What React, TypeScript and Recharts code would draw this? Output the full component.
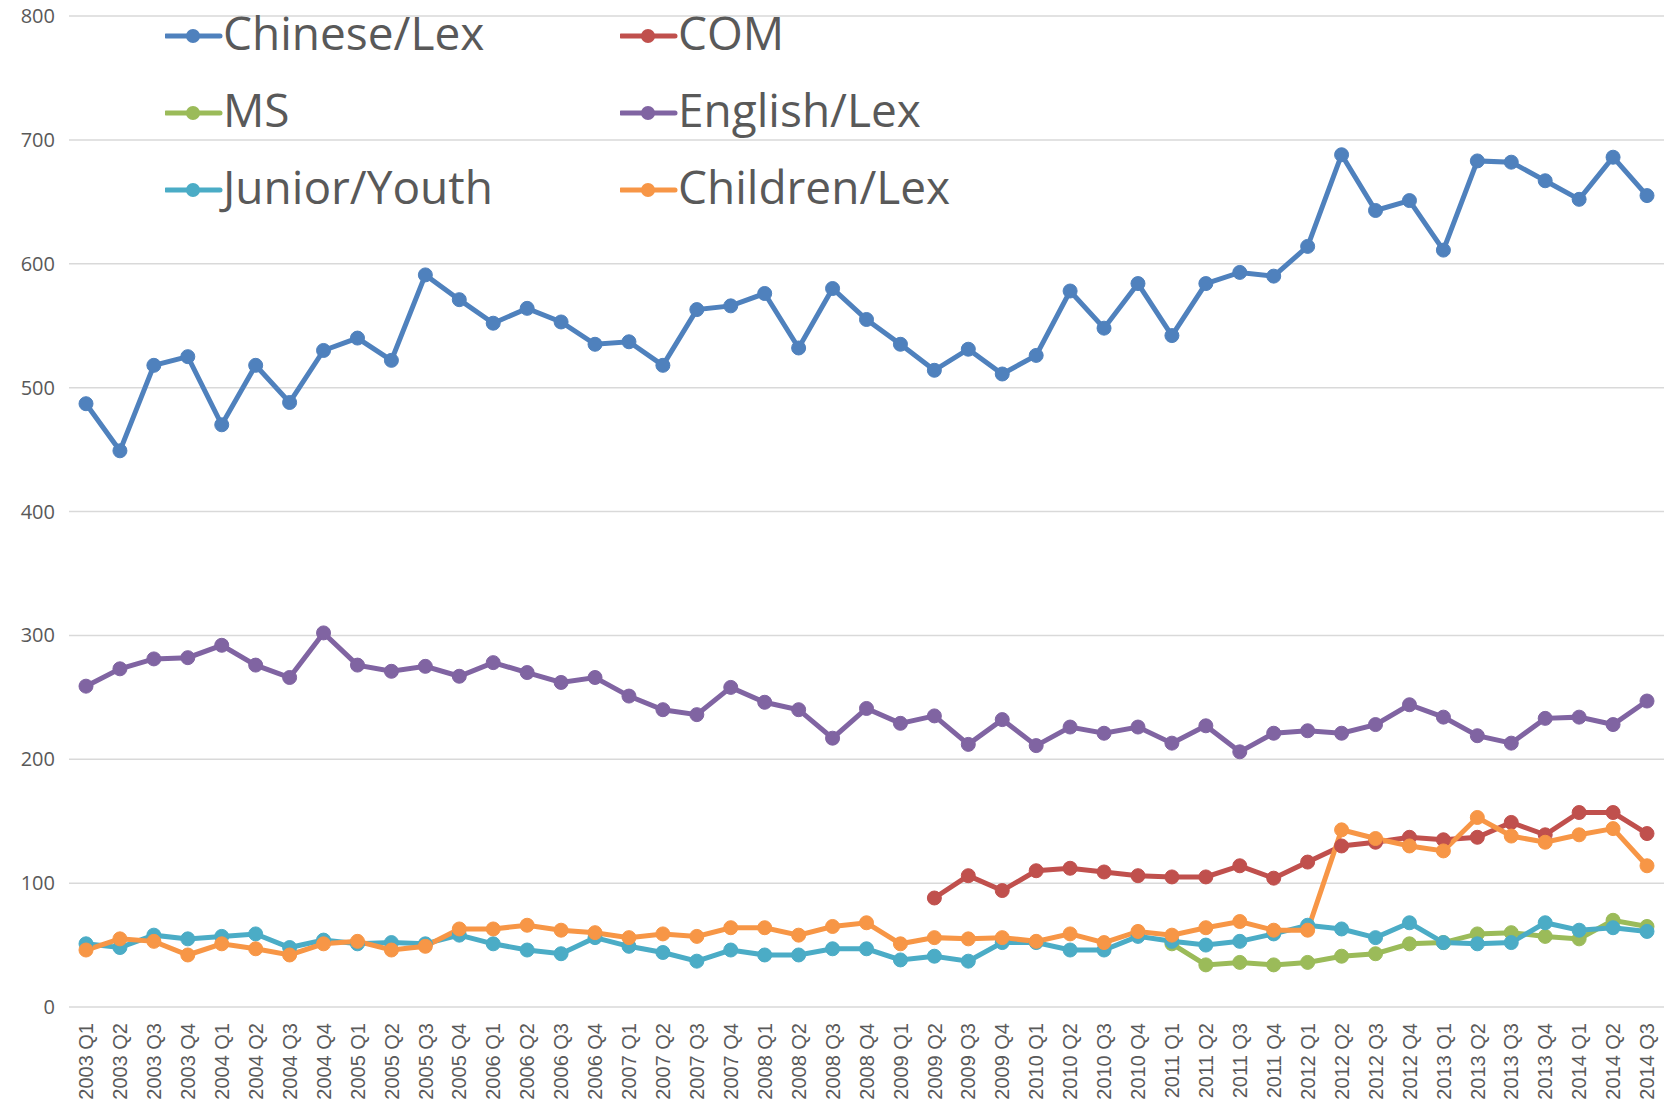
import React from "react";
import { LineChart, Line, XAxis, YAxis, CartesianGrid } from "recharts";

const categories: string[] = [];
const years = ["2003","2004","2005","2006","2007","2008","2009","2010","2011","2012","2013","2014"];
for (const y of years) {
  for (const q of ["Q1", "Q2", "Q3", "Q4"]) {
    if (y === "2014" && q === "Q4") continue;
    categories.push(`${y} ${q}`);
  }
}

const chineseLex = [487,449,518,525, 470,518,488,530, 540,522,591,571, 552,564,553,535, 537,518,563,566, 576,532,580,555, 535,514,531,511, 526,578,548,584, 542,584,593,590, 614,688,643,651, 611,683,682,667, 652,686,655];
const englishLex = [259,273,281,282, 292,276,266,302, 276,271,275,267, 278,270,262,266, 251,240,236,258, 246,240,217,241, 229,235,212,232, 211,226,221,226, 213,227,206,221, 223,221,228,244, 234,219,213,233, 234,228,247];
const com: (number | null)[] = [null,null,null,null, null,null,null,null, null,null,null,null, null,null,null,null, null,null,null,null, null,null,null,null, null,88,106,94, 110,112,109,106, 105,105,114,104, 117,130,133,137, 135,137,149,139, 157,157,140];
const ms: (number | null)[] = [null,null,null,null, null,null,null,null, null,null,null,null, null,null,null,null, null,null,null,null, null,null,null,null, null,null,null,null, null,null,null,null, 51,34,36,34, 36,41,43,51, 52,59,60,57, 55,70,65];
const juniorYouth = [51,48,58,55, 57,59,48,54, 51,52,51,58, 51,46,43,56, 49,44,37,46, 42,42,47,47, 38,41,37,52, 52,46,46,57, 53,50,53,59, 66,63,56,68, 52,51,52,68, 62,64,61];
const childrenLex = [46,55,53,42, 51,47,42,51, 53,46,49,63, 63,66,62,60, 56,59,57,64, 64,58,65,68, 51,56,55,56, 53,59,52,61, 58,64,69,62, 62,143,136,130, 126,153,138,133, 139,144,114];

const yTicks = [0, 100, 200, 300, 400, 500, 600, 700, 800];

const series = [
  { key: "Chinese/Lex", color: "#4F81BD", values: chineseLex },
  { key: "COM", color: "#C0504D", values: com },
  { key: "MS", color: "#9BBB59", values: ms },
  { key: "English/Lex", color: "#8064A2", values: englishLex },
  { key: "Junior/Youth", color: "#4BACC6", values: juniorYouth },
  { key: "Children/Lex", color: "#F79646", values: childrenLex },
];

const data = categories.map((c, i) => {
  const row: Record<string, string | number | null> = { name: c };
  for (const s of series) row[s.key] = s.values[i];
  return row;
});

const FONT = "'Open Sans', 'Noto Sans', sans-serif";

const XTick = (props: any) => {
  const { x, y, payload } = props;
  return (
    <text
      x={x}
      y={y}
      transform={`rotate(-90, ${x}, ${y})`}
      textAnchor="end"
      dy="0.36em"
      fill="#595959"
      fontSize={20}
      fontFamily="'Liberation Sans', Arial, sans-serif"
    >
      {payload.value}
    </text>
  );
};

const LegendOverlay = () => (
  <div
    style={{
      position: "absolute",
      top: -3,
      left: 157,
      display: "grid",
      gridTemplateColumns: "455px 455px",
      gridAutoRows: "77px",
      fontFamily: FONT,
      fontSize: 46,
      color: "#595959",
      pointerEvents: "none",
    }}
  >
    {series.map((s) => (
      <div key={s.key} style={{ display: "flex", alignItems: "center", height: 77 }}>
        <svg width={58} height={20} style={{ flex: "none" }}>
          <line x1={1} y1={10} x2={55} y2={10} stroke={s.color} strokeWidth={5} strokeLinecap="round" />
          <circle cx={28} cy={10} r={7} fill={s.color} />
        </svg>
        <span style={{ lineHeight: "77px", marginTop: -6, whiteSpace: "nowrap" }}>{s.key}</span>
      </div>
    ))}
  </div>
);

export default function App() {
  return (
    <div style={{ position: "relative", width: 1659, height: 1108, marginTop: -8, marginBottom: -8 }}>
      <LineChart
        width={1659}
        height={1108}
        data={data}
        margin={{ top: 16, right: 3, left: 0, bottom: 0 }}
      >
        <CartesianGrid vertical={false} stroke="#D9D9D9" strokeWidth={1.5} />
        <XAxis
          dataKey="name"
          interval={0}
          height={101}
          padding={{ left: 17, right: 17 }}
          axisLine={false}
          tickLine={false}
          tickSize={0}
          tickMargin={16}
          tick={<XTick />}
        />
        <YAxis
          width={61}
          domain={[0, 800]}
          ticks={yTicks}
          axisLine={false}
          tickLine={false}
          tickSize={0}
          tickMargin={14}
          tick={{ fill: "#595959", fontSize: 20, fontFamily: FONT }}
        />
        {series.map((s) => (
          <Line
            key={s.key}
            type="linear"
            dataKey={s.key}
            stroke={s.color}
            strokeWidth={5}
            dot={{ r: 7, fill: s.color, stroke: s.color, strokeWidth: 1 }}
            activeDot={false}
            isAnimationActive={false}
          />
        ))}
      </LineChart>
      <LegendOverlay />
    </div>
  );
}
